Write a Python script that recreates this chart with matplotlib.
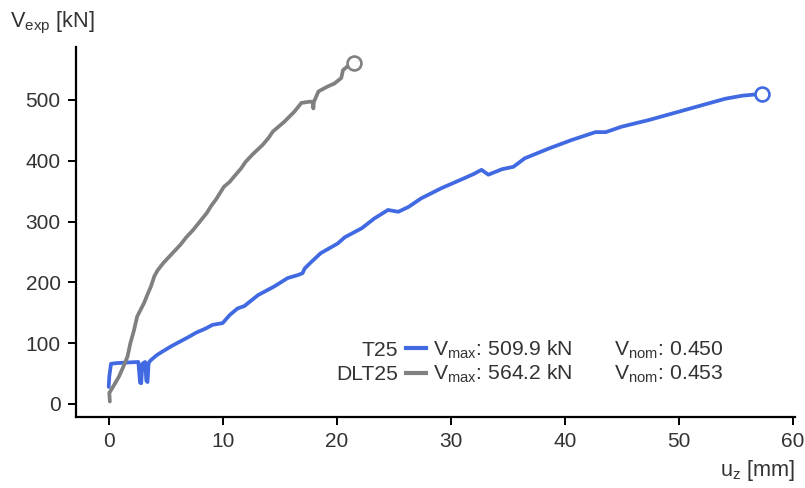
import matplotlib
matplotlib.use("Agg")
import matplotlib.pyplot as plt
from matplotlib.lines import Line2D
from matplotlib.transforms import IdentityTransform

plt.rcParams["font.family"] = ["Liberation Sans", "DejaVu Sans"]
plt.rcParams["mathtext.default"] = "regular"
plt.rcParams["font.size"] = 15.6

# --- données ---
t25_u = [0.0, 0.05, 0.2, 0.6, 1.5, 2.6, 2.75, 2.85, 2.95, 3.1, 3.2, 3.3, 3.4, 3.5,
         3.6, 3.7, 4.2, 4.7, 5.5, 6.2, 7.0, 7.65, 8.5, 9.1, 10.0, 10.6, 11.3, 11.9,
         13.1, 14.5, 15.7, 16.6, 17.0, 17.2, 17.8, 18.6, 20.1, 20.7, 22.2, 23.3,
         24.5, 25.4, 26.3, 27.4, 29.2, 30.8, 32.0, 32.7, 33.3, 34.5, 35.5, 36.5,
         38.6, 40.6, 42.7, 43.6, 45.0, 47.4, 49.7, 51.8, 54.1, 55.6, 57.3]
t25_v = [28, 45, 66, 67, 68, 69, 35, 34, 66, 68, 69, 38, 36, 67,
         70, 72, 80, 86, 95, 102, 110, 117, 124, 130, 133, 146, 157, 161,
         179, 193, 207, 212, 215, 223, 234, 248, 264, 274, 289, 305,
         319, 316, 324, 338, 355, 368, 378, 385, 377, 386, 390, 404,
         420, 434, 447, 447, 456, 467, 479, 490, 502, 507, 509.9]

dlt25_u = [0.1, 0.05, 0.5, 0.9, 1.3, 1.65, 1.9, 2.2, 2.5, 2.8, 3.1, 3.4, 3.7, 4.0,
           4.3, 4.8, 5.3, 5.8, 6.3, 6.8, 7.4, 8.0, 8.6, 9.0, 9.4, 10.1, 10.6, 11.0,
           11.6, 12.0, 12.6, 13.5, 14.0, 14.4, 15.4, 16.3, 16.9, 17.6, 17.9, 17.95,
           18.0, 18.4, 19.2, 19.8, 20.4, 20.55, 21.0, 21.5]
dlt25_v = [4, 18, 32, 45, 62, 78, 100, 120, 144, 155, 166, 180, 193, 210,
           220, 232, 242, 252, 262, 274, 286, 300, 314, 326, 336, 357, 365, 374,
           387, 398, 410, 426, 437, 448, 464, 481, 495, 497, 497, 486,
           497, 514, 522, 527, 536, 549, 556, 560]

names = ["T25", "DLT25"]
vmax = [509.9, 564.2]
vnom = [0.450, 0.453]
colors = ["#4169E1", "#808080"]
txt_col = "#333333"

fig = plt.figure(figsize=(8.05, 4.88), dpi=100)
ax = fig.add_axes([76 / 805, 1 - 417 / 488, 719 / 805, 370 / 488])

series = [(t25_u, t25_v), (dlt25_u, dlt25_v)]
for (u, v), c in zip(series, colors):
    ax.plot(u, v, color=c, lw=2.7, solid_capstyle="round", solid_joinstyle="round")
    ax.plot(u[-1], v[-1], "o", ms=10, mfc="white", mec=c, mew=1.9)

ax.set_xlim(-2.87, 60.2)
ax.set_ylim(-21.5, 587)
ax.set_xticks([0, 10, 20, 30, 40, 50, 60])
ax.set_yticks([0, 100, 200, 300, 400, 500])

for s in ["top", "right"]:
    ax.spines[s].set_visible(False)
for s in ["left", "bottom"]:
    ax.spines[s].set_linewidth(1.6)
ax.tick_params(direction="out", length=6, width=1.4, colors="black",
               labelcolor=txt_col, labelsize=15, pad=5)

fig.text(10 / 805, 1 - 27 / 488, "V$_{exp}$ [kN]", color=txt_col, ha="left", va="baseline")
fig.text(795 / 805, 1 - 476 / 488, "u$_{z}$ [mm]", color=txt_col, ha="right", va="baseline")

# légende : trait + Vmax + Vnom, les noms sont placés à gauche ensuite
handles = [Line2D([], [], color=c, lw=3) for c in colors]
labels = [rf"V$_{{max}}$: {m:.1f} kN$\hspace{{2.05}}$V$_{{nom}}$: {n:.3f}" for m, n in zip(vmax, vnom)]
leg = ax.legend(handles, labels, loc="center left", bbox_to_anchor=(406 / 805, 1 - 362 / 488),
                bbox_transform=fig.transFigure, frameon=False, handlelength=0.95,
                handletextpad=0.35, labelspacing=0.1, borderpad=0, borderaxespad=0,
                fontsize=15.2)
for t in leg.get_texts():
    t.set_color(txt_col)

fig.canvas.draw()
x_name = leg.get_window_extent().x0 - 8
for n, t in zip(names, leg.get_texts()):
    bx, by = t.get_transform().transform(t.get_position())
    fig.text(x_name, by, n, ha="right", va="baseline", color=txt_col, fontsize=15.2,
             transform=IdentityTransform())

fig.savefig("out.png", dpi=100)
